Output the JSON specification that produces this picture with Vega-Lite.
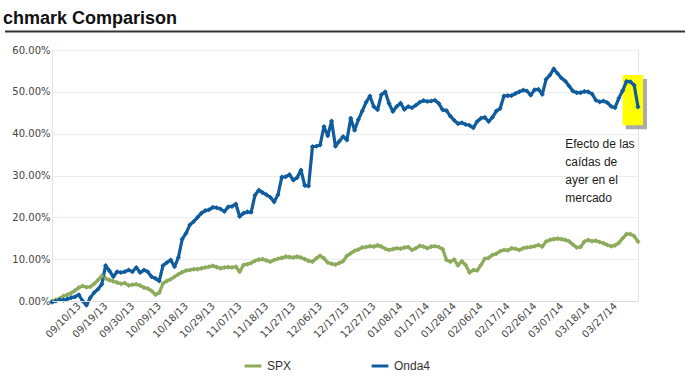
{
"$schema":"https://vega.github.io/schema/vega-lite/v6.json",
"width":586,"height":251,
"autosize":{"type":"none"},
"padding":{"left":52,"top":50,"right":47,"bottom":79},
"background":"white",
"title":{"text":"chmark Comparison","anchor":"start","frame":"group","dx":-49,"dy":31,"offset":20,"fontSize":18,"font":"Liberation Sans","fontWeight":"bold","color":"#111111","baseline":"alphabetic"},
"config":{"view":{"stroke":"#e3e3e3"},"axis":{"labelFont":"DejaVu Sans","labelFontSize":10,"labelColor":"#444444","ticks":false,"gridColor":"#ececec","title":null}},
"datasets":{"series":[
{"d":"08/30/13","s":"SPX","v":0.0},{"d":"09/02/13","s":"SPX","v":0.3},{"d":"09/03/13","s":"SPX","v":0.6},{"d":"09/04/13","s":"SPX","v":1.2},{"d":"09/05/13","s":"SPX","v":1.5},{"d":"09/06/13","s":"SPX","v":1.9},{"d":"09/09/13","s":"SPX","v":2.5},{"d":"09/10/13","s":"SPX","v":3.2},{"d":"09/11/13","s":"SPX","v":3.6},{"d":"09/12/13","s":"SPX","v":3.3},
{"d":"09/13/13","s":"SPX","v":3.4},{"d":"09/16/13","s":"SPX","v":4.1},{"d":"09/17/13","s":"SPX","v":5.0},{"d":"09/18/13","s":"SPX","v":6.0},{"d":"09/19/13","s":"SPX","v":5.4},{"d":"09/20/13","s":"SPX","v":5.0},{"d":"09/23/13","s":"SPX","v":4.7},{"d":"09/24/13","s":"SPX","v":4.4},{"d":"09/25/13","s":"SPX","v":4.1},{"d":"09/26/13","s":"SPX","v":4.3},
{"d":"09/27/13","s":"SPX","v":3.7},{"d":"09/30/13","s":"SPX","v":3.9},{"d":"10/01/13","s":"SPX","v":4.0},{"d":"10/02/13","s":"SPX","v":3.7},{"d":"10/03/13","s":"SPX","v":3.2},{"d":"10/04/13","s":"SPX","v":3.0},{"d":"10/07/13","s":"SPX","v":2.4},{"d":"10/08/13","s":"SPX","v":1.5},{"d":"10/09/13","s":"SPX","v":2.0},{"d":"10/10/13","s":"SPX","v":4.2},
{"d":"10/11/13","s":"SPX","v":4.8},{"d":"10/14/13","s":"SPX","v":5.2},{"d":"10/15/13","s":"SPX","v":5.8},{"d":"10/16/13","s":"SPX","v":6.4},{"d":"10/17/13","s":"SPX","v":6.9},{"d":"10/18/13","s":"SPX","v":7.3},{"d":"10/21/13","s":"SPX","v":7.4},{"d":"10/22/13","s":"SPX","v":7.6},{"d":"10/23/13","s":"SPX","v":7.6},{"d":"10/24/13","s":"SPX","v":7.8},
{"d":"10/25/13","s":"SPX","v":8.0},{"d":"10/28/13","s":"SPX","v":8.2},{"d":"10/29/13","s":"SPX","v":8.4},{"d":"10/30/13","s":"SPX","v":8.1},{"d":"10/31/13","s":"SPX","v":7.8},{"d":"11/01/13","s":"SPX","v":8.0},{"d":"11/04/13","s":"SPX","v":8.1},{"d":"11/05/13","s":"SPX","v":8.0},{"d":"11/06/13","s":"SPX","v":8.2},{"d":"11/07/13","s":"SPX","v":7.0},
{"d":"11/08/13","s":"SPX","v":8.6},{"d":"11/11/13","s":"SPX","v":8.8},{"d":"11/12/13","s":"SPX","v":9.1},{"d":"11/13/13","s":"SPX","v":9.6},{"d":"11/14/13","s":"SPX","v":9.9},{"d":"11/15/13","s":"SPX","v":10.0},{"d":"11/18/13","s":"SPX","v":9.7},{"d":"11/19/13","s":"SPX","v":9.4},{"d":"11/20/13","s":"SPX","v":9.8},{"d":"11/21/13","s":"SPX","v":10.1},
{"d":"11/22/13","s":"SPX","v":10.3},{"d":"11/25/13","s":"SPX","v":10.6},{"d":"11/26/13","s":"SPX","v":10.5},{"d":"11/27/13","s":"SPX","v":10.4},{"d":"11/28/13","s":"SPX","v":10.6},{"d":"11/29/13","s":"SPX","v":10.4},{"d":"12/02/13","s":"SPX","v":10.0},{"d":"12/03/13","s":"SPX","v":9.6},{"d":"12/04/13","s":"SPX","v":9.4},{"d":"12/05/13","s":"SPX","v":10.2},
{"d":"12/06/13","s":"SPX","v":10.8},{"d":"12/09/13","s":"SPX","v":10.2},{"d":"12/10/13","s":"SPX","v":9.2},{"d":"12/11/13","s":"SPX","v":8.9},{"d":"12/12/13","s":"SPX","v":8.7},{"d":"12/13/13","s":"SPX","v":9.1},{"d":"12/16/13","s":"SPX","v":9.5},{"d":"12/17/13","s":"SPX","v":10.8},{"d":"12/18/13","s":"SPX","v":11.4},{"d":"12/19/13","s":"SPX","v":12.0},
{"d":"12/20/13","s":"SPX","v":12.3},{"d":"12/23/13","s":"SPX","v":12.8},{"d":"12/24/13","s":"SPX","v":12.9},{"d":"12/26/13","s":"SPX","v":13.1},{"d":"12/27/13","s":"SPX","v":13.0},{"d":"12/30/13","s":"SPX","v":13.3},{"d":"12/31/13","s":"SPX","v":13.0},{"d":"01/02/14","s":"SPX","v":12.5},{"d":"01/03/14","s":"SPX","v":12.2},{"d":"01/06/14","s":"SPX","v":12.4},
{"d":"01/07/14","s":"SPX","v":12.6},{"d":"01/08/14","s":"SPX","v":12.5},{"d":"01/09/14","s":"SPX","v":12.8},{"d":"01/10/14","s":"SPX","v":12.9},{"d":"01/13/14","s":"SPX","v":12.2},{"d":"01/14/14","s":"SPX","v":12.6},{"d":"01/15/14","s":"SPX","v":13.2},{"d":"01/16/14","s":"SPX","v":13.0},{"d":"01/17/14","s":"SPX","v":12.6},{"d":"01/20/14","s":"SPX","v":13.0},
{"d":"01/21/14","s":"SPX","v":13.1},{"d":"01/22/14","s":"SPX","v":12.9},{"d":"01/23/14","s":"SPX","v":12.4},{"d":"01/24/14","s":"SPX","v":9.8},{"d":"01/27/14","s":"SPX","v":9.4},{"d":"01/28/14","s":"SPX","v":9.9},{"d":"01/29/14","s":"SPX","v":8.5},{"d":"01/30/14","s":"SPX","v":9.5},{"d":"01/31/14","s":"SPX","v":8.6},{"d":"02/03/14","s":"SPX","v":6.8},
{"d":"02/04/14","s":"SPX","v":7.4},{"d":"02/05/14","s":"SPX","v":7.3},{"d":"02/06/14","s":"SPX","v":8.6},{"d":"02/07/14","s":"SPX","v":10.1},{"d":"02/10/14","s":"SPX","v":10.3},{"d":"02/11/14","s":"SPX","v":11.0},{"d":"02/12/14","s":"SPX","v":11.3},{"d":"02/13/14","s":"SPX","v":11.9},{"d":"02/14/14","s":"SPX","v":12.2},{"d":"02/17/14","s":"SPX","v":12.1},
{"d":"02/18/14","s":"SPX","v":12.6},{"d":"02/19/14","s":"SPX","v":12.5},{"d":"02/20/14","s":"SPX","v":12.2},{"d":"02/21/14","s":"SPX","v":12.6},{"d":"02/24/14","s":"SPX","v":12.8},{"d":"02/25/14","s":"SPX","v":12.9},{"d":"02/26/14","s":"SPX","v":13.1},{"d":"02/27/14","s":"SPX","v":13.4},{"d":"02/28/14","s":"SPX","v":13.0},{"d":"03/03/14","s":"SPX","v":14.2},
{"d":"03/04/14","s":"SPX","v":14.6},{"d":"03/05/14","s":"SPX","v":14.8},{"d":"03/06/14","s":"SPX","v":14.9},{"d":"03/07/14","s":"SPX","v":14.8},{"d":"03/10/14","s":"SPX","v":14.6},{"d":"03/11/14","s":"SPX","v":14.3},{"d":"03/12/14","s":"SPX","v":13.5},{"d":"03/13/14","s":"SPX","v":12.8},{"d":"03/14/14","s":"SPX","v":12.9},{"d":"03/17/14","s":"SPX","v":14.2},
{"d":"03/18/14","s":"SPX","v":14.6},{"d":"03/19/14","s":"SPX","v":14.3},{"d":"03/20/14","s":"SPX","v":14.4},{"d":"03/21/14","s":"SPX","v":14.1},{"d":"03/24/14","s":"SPX","v":13.8},{"d":"03/25/14","s":"SPX","v":13.4},{"d":"03/26/14","s":"SPX","v":13.1},{"d":"03/27/14","s":"SPX","v":13.3},{"d":"03/28/14","s":"SPX","v":13.9},{"d":"03/31/14","s":"SPX","v":15.0},
{"d":"04/01/14","s":"SPX","v":16.0},{"d":"04/02/14","s":"SPX","v":16.0},{"d":"04/03/14","s":"SPX","v":15.5},{"d":"04/04/14","s":"SPX","v":14.2},
{"d":"08/30/13","s":"Onda4","v":-0.3},{"d":"09/02/13","s":"Onda4","v":0.0},{"d":"09/03/13","s":"Onda4","v":0.3},{"d":"09/04/13","s":"Onda4","v":0.2},{"d":"09/05/13","s":"Onda4","v":0.5},{"d":"09/06/13","s":"Onda4","v":0.8},{"d":"09/09/13","s":"Onda4","v":1.0},{"d":"09/10/13","s":"Onda4","v":1.5},{"d":"09/11/13","s":"Onda4","v":0.0},{"d":"09/12/13","s":"Onda4","v":-1.0},
{"d":"09/13/13","s":"Onda4","v":0.8},{"d":"09/16/13","s":"Onda4","v":2.0},{"d":"09/17/13","s":"Onda4","v":2.8},{"d":"09/18/13","s":"Onda4","v":4.0},{"d":"09/19/13","s":"Onda4","v":8.5},{"d":"09/20/13","s":"Onda4","v":7.2},{"d":"09/23/13","s":"Onda4","v":5.8},{"d":"09/24/13","s":"Onda4","v":7.0},{"d":"09/25/13","s":"Onda4","v":6.8},{"d":"09/26/13","s":"Onda4","v":7.0},
{"d":"09/27/13","s":"Onda4","v":7.4},{"d":"09/30/13","s":"Onda4","v":7.0},{"d":"10/01/13","s":"Onda4","v":8.0},{"d":"10/02/13","s":"Onda4","v":6.8},{"d":"10/03/13","s":"Onda4","v":7.4},{"d":"10/04/13","s":"Onda4","v":7.0},{"d":"10/07/13","s":"Onda4","v":5.8},{"d":"10/08/13","s":"Onda4","v":5.4},{"d":"10/09/13","s":"Onda4","v":4.8},{"d":"10/10/13","s":"Onda4","v":8.5},
{"d":"10/11/13","s":"Onda4","v":9.2},{"d":"10/14/13","s":"Onda4","v":9.8},{"d":"10/15/13","s":"Onda4","v":8.2},{"d":"10/16/13","s":"Onda4","v":10.4},{"d":"10/17/13","s":"Onda4","v":14.8},{"d":"10/18/13","s":"Onda4","v":16.2},{"d":"10/21/13","s":"Onda4","v":18.2},{"d":"10/22/13","s":"Onda4","v":19.0},{"d":"10/23/13","s":"Onda4","v":20.0},{"d":"10/24/13","s":"Onda4","v":21.0},
{"d":"10/25/13","s":"Onda4","v":21.6},{"d":"10/28/13","s":"Onda4","v":21.8},{"d":"10/29/13","s":"Onda4","v":22.4},{"d":"10/30/13","s":"Onda4","v":22.3},{"d":"10/31/13","s":"Onda4","v":22.0},{"d":"11/01/13","s":"Onda4","v":21.4},{"d":"11/04/13","s":"Onda4","v":22.5},{"d":"11/05/13","s":"Onda4","v":22.6},{"d":"11/06/13","s":"Onda4","v":23.2},{"d":"11/07/13","s":"Onda4","v":20.2},
{"d":"11/08/13","s":"Onda4","v":21.0},{"d":"11/11/13","s":"Onda4","v":21.3},{"d":"11/12/13","s":"Onda4","v":21.2},{"d":"11/13/13","s":"Onda4","v":25.3},{"d":"11/14/13","s":"Onda4","v":26.5},{"d":"11/15/13","s":"Onda4","v":25.9},{"d":"11/18/13","s":"Onda4","v":25.4},{"d":"11/19/13","s":"Onda4","v":24.8},{"d":"11/20/13","s":"Onda4","v":23.7},{"d":"11/21/13","s":"Onda4","v":25.4},
{"d":"11/22/13","s":"Onda4","v":29.6},{"d":"11/25/13","s":"Onda4","v":29.7},{"d":"11/26/13","s":"Onda4","v":30.2},{"d":"11/27/13","s":"Onda4","v":28.9},{"d":"11/28/13","s":"Onda4","v":29.5},{"d":"11/29/13","s":"Onda4","v":31.3},{"d":"12/02/13","s":"Onda4","v":27.6},{"d":"12/03/13","s":"Onda4","v":27.5},{"d":"12/04/13","s":"Onda4","v":36.9},{"d":"12/05/13","s":"Onda4","v":37.0},
{"d":"12/06/13","s":"Onda4","v":37.3},{"d":"12/09/13","s":"Onda4","v":41.7},{"d":"12/10/13","s":"Onda4","v":39.5},{"d":"12/11/13","s":"Onda4","v":43.0},{"d":"12/12/13","s":"Onda4","v":37.0},{"d":"12/13/13","s":"Onda4","v":38.2},{"d":"12/16/13","s":"Onda4","v":39.3},{"d":"12/17/13","s":"Onda4","v":38.5},{"d":"12/18/13","s":"Onda4","v":43.7},{"d":"12/19/13","s":"Onda4","v":40.8},
{"d":"12/20/13","s":"Onda4","v":43.4},{"d":"12/23/13","s":"Onda4","v":45.4},{"d":"12/24/13","s":"Onda4","v":47.5},{"d":"12/26/13","s":"Onda4","v":49.0},{"d":"12/27/13","s":"Onda4","v":46.5},{"d":"12/30/13","s":"Onda4","v":45.7},{"d":"12/31/13","s":"Onda4","v":49.3},{"d":"01/02/14","s":"Onda4","v":50.0},{"d":"01/03/14","s":"Onda4","v":47.2},{"d":"01/06/14","s":"Onda4","v":45.3},
{"d":"01/07/14","s":"Onda4","v":46.5},{"d":"01/08/14","s":"Onda4","v":47.3},{"d":"01/09/14","s":"Onda4","v":45.8},{"d":"01/10/14","s":"Onda4","v":46.5},{"d":"01/13/14","s":"Onda4","v":46.2},{"d":"01/14/14","s":"Onda4","v":46.8},{"d":"01/15/14","s":"Onda4","v":47.5},{"d":"01/16/14","s":"Onda4","v":47.9},{"d":"01/17/14","s":"Onda4","v":47.7},{"d":"01/20/14","s":"Onda4","v":47.8},
{"d":"01/21/14","s":"Onda4","v":48.0},{"d":"01/22/14","s":"Onda4","v":47.2},{"d":"01/23/14","s":"Onda4","v":45.7},{"d":"01/24/14","s":"Onda4","v":45.5},{"d":"01/27/14","s":"Onda4","v":44.2},{"d":"01/28/14","s":"Onda4","v":43.2},{"d":"01/29/14","s":"Onda4","v":42.4},{"d":"01/30/14","s":"Onda4","v":42.6},{"d":"01/31/14","s":"Onda4","v":42.2},{"d":"02/03/14","s":"Onda4","v":42.0},
{"d":"02/04/14","s":"Onda4","v":41.4},{"d":"02/05/14","s":"Onda4","v":42.9},{"d":"02/06/14","s":"Onda4","v":43.7},{"d":"02/07/14","s":"Onda4","v":43.9},{"d":"02/10/14","s":"Onda4","v":42.9},{"d":"02/11/14","s":"Onda4","v":43.9},{"d":"02/12/14","s":"Onda4","v":45.4},{"d":"02/13/14","s":"Onda4","v":46.0},{"d":"02/14/14","s":"Onda4","v":49.0},{"d":"02/17/14","s":"Onda4","v":49.1},
{"d":"02/18/14","s":"Onda4","v":49.1},{"d":"02/19/14","s":"Onda4","v":49.6},{"d":"02/20/14","s":"Onda4","v":50.0},{"d":"02/21/14","s":"Onda4","v":50.4},{"d":"02/24/14","s":"Onda4","v":50.2},{"d":"02/25/14","s":"Onda4","v":49.2},{"d":"02/26/14","s":"Onda4","v":50.5},{"d":"02/27/14","s":"Onda4","v":50.6},{"d":"02/28/14","s":"Onda4","v":49.4},{"d":"03/03/14","s":"Onda4","v":53.0},
{"d":"03/04/14","s":"Onda4","v":54.0},{"d":"03/05/14","s":"Onda4","v":55.5},{"d":"03/06/14","s":"Onda4","v":54.4},{"d":"03/07/14","s":"Onda4","v":53.3},{"d":"03/10/14","s":"Onda4","v":52.6},{"d":"03/11/14","s":"Onda4","v":51.4},{"d":"03/12/14","s":"Onda4","v":50.2},{"d":"03/13/14","s":"Onda4","v":49.8},{"d":"03/14/14","s":"Onda4","v":49.8},{"d":"03/17/14","s":"Onda4","v":50.1},
{"d":"03/18/14","s":"Onda4","v":50.0},{"d":"03/19/14","s":"Onda4","v":49.5},{"d":"03/20/14","s":"Onda4","v":48.0},{"d":"03/21/14","s":"Onda4","v":47.6},{"d":"03/24/14","s":"Onda4","v":47.8},{"d":"03/25/14","s":"Onda4","v":47.4},{"d":"03/26/14","s":"Onda4","v":46.5},{"d":"03/27/14","s":"Onda4","v":46.2},{"d":"03/28/14","s":"Onda4","v":48.5},{"d":"03/31/14","s":"Onda4","v":50.3},
{"d":"04/01/14","s":"Onda4","v":52.5},{"d":"04/02/14","s":"Onda4","v":52.4},{"d":"04/03/14","s":"Onda4","v":51.6},{"d":"04/04/14","s":"Onda4","v":46.4}
]},
"layer":[
{"data":{"values":[{"a":"03/31/14","b":"04/04/14","hi":54,"lo":42}]},"mark":{"type":"rect","color":"#444444","opacity":0.45,"xOffset":3,"x2Offset":9,"yOffset":4,"y2Offset":4},"encoding":{"x":{"field":"a","type":"ordinal"},"x2":{"field":"b"},"y":{"field":"hi","type":"quantitative"},"y2":{"field":"lo"}}},
{"data":{"values":[{"a":"03/31/14","b":"04/04/14","hi":54,"lo":42}]},"mark":{"type":"rect","color":"#ffff00","opacity":1,"x2Offset":5},"encoding":{"x":{"field":"a","type":"ordinal"},"x2":{"field":"b"},"y":{"field":"hi","type":"quantitative"},"y2":{"field":"lo"}}},
{"data":{"name":"series"},"mark":{"type":"line","strokeWidth":3.2,"strokeJoin":"round"},"encoding":{
"x":{"field":"d","type":"ordinal","scale":{"type":"point","padding":0,"domain":["08/30/13","09/02/13","09/03/13","09/04/13","09/05/13","09/06/13","09/09/13","09/10/13","09/11/13","09/12/13","09/13/13","09/16/13","09/17/13","09/18/13","09/19/13","09/20/13","09/23/13","09/24/13","09/25/13","09/26/13","09/27/13","09/30/13","10/01/13","10/02/13","10/03/13","10/04/13","10/07/13","10/08/13","10/09/13","10/10/13","10/11/13","10/14/13","10/15/13","10/16/13","10/17/13","10/18/13","10/21/13","10/22/13","10/23/13","10/24/13","10/25/13","10/28/13","10/29/13","10/30/13","10/31/13","11/01/13","11/04/13","11/05/13","11/06/13","11/07/13","11/08/13","11/11/13","11/12/13","11/13/13","11/14/13","11/15/13","11/18/13","11/19/13","11/20/13","11/21/13","11/22/13","11/25/13","11/26/13","11/27/13","11/28/13","11/29/13","12/02/13","12/03/13","12/04/13","12/05/13","12/06/13","12/09/13","12/10/13","12/11/13","12/12/13","12/13/13","12/16/13","12/17/13","12/18/13","12/19/13","12/20/13","12/23/13","12/24/13","12/26/13","12/27/13","12/30/13","12/31/13","01/02/14","01/03/14","01/06/14","01/07/14","01/08/14","01/09/14","01/10/14","01/13/14","01/14/14","01/15/14","01/16/14","01/17/14","01/20/14","01/21/14","01/22/14","01/23/14","01/24/14","01/27/14","01/28/14","01/29/14","01/30/14","01/31/14","02/03/14","02/04/14","02/05/14","02/06/14","02/07/14","02/10/14","02/11/14","02/12/14","02/13/14","02/14/14","02/17/14","02/18/14","02/19/14","02/20/14","02/21/14","02/24/14","02/25/14","02/26/14","02/27/14","02/28/14","03/03/14","03/04/14","03/05/14","03/06/14","03/07/14","03/10/14","03/11/14","03/12/14","03/13/14","03/14/14","03/17/14","03/18/14","03/19/14","03/20/14","03/21/14","03/24/14","03/25/14","03/26/14","03/27/14","03/28/14","03/31/14","04/01/14","04/02/14","04/03/14","04/04/14"]},
"axis":{"values":["09/10/13","09/19/13","09/30/13","10/09/13","10/18/13","10/29/13","11/07/13","11/18/13","11/27/13","12/06/13","12/17/13","12/27/13","01/08/14","01/17/14","01/28/14","02/06/14","02/17/14","02/26/14","03/07/14","03/18/14","03/27/14"],"labelAngle":-45,"labelPadding":3,"domainColor":"#dddddd"}},
"y":{"field":"v","type":"quantitative","scale":{"domain":[0,60],"nice":false,"zero":false},"axis":{"values":[0,10,20,30,40,50,60],"labelExpr":"format(datum.value,'.2f')+'%'","labelPadding":2,"domain":false}},
"color":{"field":"s","type":"nominal","sort":["SPX","Onda4"],"scale":{"domain":["SPX","Onda4"],"range":["#8dab5c","#0f5c9e"]},"legend":{"title":null,"orient":"none","legendX":191,"legendY":306,"direction":"horizontal","symbolType":"stroke","symbolStrokeWidth":3,"symbolSize":280,"labelFont":"Liberation Sans","labelFontSize":12,"labelColor":"#333333","columnPadding":73}}}},
{"data":{"name":"series"},"mark":{"type":"point","shape":"diamond","filled":true,"size":26,"opacity":1},"encoding":{"x":{"field":"d","type":"ordinal"},"y":{"field":"v","type":"quantitative"},"color":{"field":"s","type":"nominal","legend":null}}},
{"data":{"values":[{"a":"03/10/14","v":36.6}]},"mark":{"type":"text","text":["Efecto de las","caídas de","ayer en el","mercado"],"align":"left","baseline":"alphabetic","font":"Liberation Sans","fontSize":12,"lineHeight":18,"color":"#1a1a1a"},"encoding":{"x":{"field":"a","type":"ordinal"},"y":{"field":"v","type":"quantitative"}}},
{"data":{"values":[{"a":"08/30/13","b":"04/04/14","v":64.4}]},"mark":{"type":"rule","color":"#333333","strokeWidth":2,"xOffset":-47,"x2Offset":47},"encoding":{"x":{"field":"a","type":"ordinal"},"x2":{"field":"b"},"y":{"field":"v","type":"quantitative"}}}
]
}
